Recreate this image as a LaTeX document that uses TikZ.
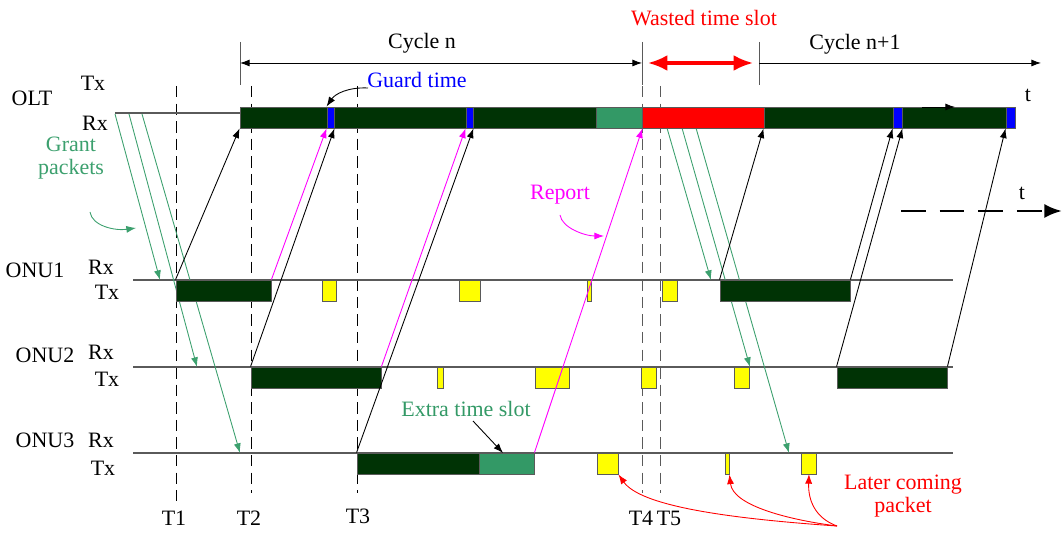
\documentclass[tikz,border=0pt]{standalone}
\usepackage{fontspec}
\setmainfont{Liberation Serif}
\usetikzlibrary{arrows, arrows.meta, fit}
\definecolor{slotgreen}{RGB}{0,51,5}
\definecolor{extragreen}{RGB}{51,153,102}
\definecolor{grantgreen}{RGB}{60,160,110}
\definecolor{linegray}{RGB}{90,90,90}
\definecolor{reportpink}{RGB}{255,0,255}
\definecolor{pktyellow}{RGB}{255,255,0}
\definecolor{wastedred}{RGB}{255,0,0}
\definecolor{guardblue}{RGB}{0,0,255}
\begin{document}
\begin{tikzpicture}[x=0.02cm, y=-0.02cm]

\tikzset{lbl/.style = {font=\fontsize{12.5}{13.6}\selectfont, anchor=base, inner sep=0pt}}
\tikzset{slot/.style = {draw=linegray, line width=0.5pt, inner sep=0pt, fill=slotgreen}}
\tikzset{guard/.style = {slot, fill=guardblue}}
\tikzset{extra/.style = {slot, fill=extragreen}}
\tikzset{wasted/.style = {slot, fill=wastedred}}
\tikzset{pkt/.style = {slot, fill=pktyellow}}
\tikzset{edge/.style = {->, > = {Latex[length=5.5pt,width=4pt]}, line width=0.5pt}}
\tikzset{report/.style = {edge, reportpink}}
\tikzset{grant/.style = {edge, grantgreen}}
\tikzset{rxline/.style = {linegray, line width=0.6pt}}
\tikzset{tline/.style = {line width=0.55pt, dash pattern=on 6.5pt off 3.5pt}}
\useasboundingbox (0,0) rectangle (1062,540);

% time marks
\draw[tline] (176,86) -- (176,501);
\draw[tline] (251,86) -- (251,493);
\draw[tline] (357,86) -- (357,493);
\draw[tline, linegray] (642,86) -- (642,493);
\draw[tline, linegray] (660,86) -- (660,493);
\node[lbl] (T1) at (174,525) {T1};
\node[lbl] (T2) at (249,525) {T2};
\node[lbl] (T3) at (358,523) {T3};
\node[lbl] (T4) at (641,525) {T4};
\node[lbl] (T5) at (669,525) {T5};

% cycles
\draw[linegray] (240,42) -- (240,85);
\draw[linegray] (642,42) -- (642,85);
\draw[linegray] (759,42) -- (759,85);
\coordinate (c0) at (240,63);
\coordinate (c1) at (642,63);
\coordinate (c2) at (759,63);
\coordinate (c3) at (1041,63);
\coordinate (w0) at (648,63);
\coordinate (w1) at (753,63);
\draw[edge, <->] (c0) -- (c1);
\draw[edge] (c2) -- (c3);
\draw[{Latex[length=11pt,width=9pt]}-{Latex[length=11pt,width=9pt]}, wastedred, line width=1.8pt] (w0) -- (w1);
\node[lbl] (cyc1) at (422,49) {Cycle n};
\node[lbl] (cyc2) at (855,50) {Cycle n+1};
\node[lbl, wastedred] (waste) at (704,26) {Wasted time slot};

% rx lines
\draw[rxline] (115,113) -- (240,113);
\draw[rxline] (133,280) -- (953,280);
\draw[rxline] (133,367) -- (953,367);
\draw[rxline] (133,453) -- (953,453);

% grants
\coordinate (ga1) at (115,114);
\coordinate (ga2) at (129,114);
\coordinate (ga3) at (142,114);
\coordinate (gb1) at (667,128);
\coordinate (gb2) at (682,128);
\coordinate (gb3) at (696,128);
\coordinate (ra1) at (160,280);
\coordinate (ra2) at (197,367);
\coordinate (ra3) at (240,453);
\coordinate (rb1) at (711,280);
\coordinate (rb2) at (750,367);
\coordinate (rb3) at (789,453);
\draw[grant] (ga1) -- (ra1);
\draw[grant] (ga2) -- (ra2);
\draw[grant] (ga3) -- (ra3);
\draw[grant] (gb1) -- (rb1);
\draw[grant] (gb2) -- (rb2);
\draw[grant] (gb3) -- (rb3);

% OLT slots
\node[slot, fit={(240,107) (327,128)}] (o1) {};
\node[guard, fit={(327,107) (334,128)}] (g1) {};
\node[slot, fit={(334,107) (466,128)}] (o2) {};
\node[guard, fit={(466,107) (473,128)}] (g2) {};
\node[slot, fit={(473,107) (596,128)}] (o3) {};
\node[extra, fit={(596,107) (642,128)}] (ox) {};
\node[wasted, fit={(642,107) (764,128)}] (ow) {};
\node[slot, fit={(764,107) (893,128)}] (o4) {};
\node[guard, fit={(893,107) (902,128)}] (g3) {};
\node[slot, fit={(902,107) (1006,128)}] (o5) {};
\node[guard, fit={(1006,107) (1015,128)}] (g4) {};
\coordinate (tt) at (955,107);
\draw[edge] (922,107) -- (tt);

% ONU1 slots
\node[slot, fit={(176,280) (271,301)}] (a1) {};
\node[pkt, fit={(322,280) (336,301)}] (ay1) {};
\node[pkt, fit={(459,280) (480,301)}] (ay2) {};
\node[pkt, fit={(587,280) (591,301)}] (ay3) {};
\node[pkt, fit={(662,280) (677,301)}] (ay4) {};
\node[slot, fit={(720,280) (850,301)}] (a2) {};

% ONU2 slots
\node[slot, fit={(251,367) (381,388)}] (b1) {};
\node[pkt, fit={(437,367) (443,388)}] (by1) {};
\node[pkt, fit={(535,367) (569,388)}] (by2) {};
\node[pkt, fit={(641,367) (656,388)}] (by3) {};
\node[pkt, fit={(734,367) (749,388)}] (by4) {};
\node[slot, fit={(837,367) (947,388)}] (b2) {};

% ONU3 slots
\node[slot, fit={(357,453) (479,474)}] (c1) {};
\node[extra, fit={(479,453) (534,474)}] (cx) {};
\node[pkt, fit={(597,453) (618,474)}] (cy1) {};
\node[pkt, fit={(725,453) (729,474)}] (cy2) {};
\node[pkt, fit={(801,453) (816,474)}] (cy3) {};

%edges
\draw[edge] (a1.north west) -- (o1.south west);
\draw[report] (a1.north east) -- (g1.south west);
\draw[edge] (b1.north west) -- (g1.south east);
\draw[report] (b1.north east) -- (g2.south west);
\draw[edge] (c1.north west) -- (g2.south east);
\draw[report] (cx.north east) -- (ox.south east);
\draw[edge] (a2.north west) -- (o4.south west);
\draw[edge] (a2.north east) -- (g3.south west);
\draw[edge] (b2.north west) -- (g3.south east);
\draw[edge] (b2.north east) -- (g4.south west);

% node labels
\node[lbl] (olt) at (32,106) {OLT};
\node[lbl] (olttx) at (93,91) {Tx};
\node[lbl] (oltrx) at (95,131) {Rx};
\node[lbl] (onu1) at (35,278) {ONU1};
\node[lbl] (onu1rx) at (101,275) {Rx};
\node[lbl] (onu1tx) at (107,300) {Tx};
\node[lbl] (onu2) at (45,363) {ONU2};
\node[lbl] (onu2rx) at (101,360) {Rx};
\node[lbl] (onu2tx) at (107,387) {Tx};
\node[lbl] (onu3) at (45,448) {ONU3};
\node[lbl] (onu3rx) at (101,448) {Rx};
\node[lbl] (onu3tx) at (103,476) {Tx};
\node[lbl] (t1) at (1028,102) {t};
\node[lbl] (t2) at (1022,200) {t};

% remarks
\node[lbl, grantgreen, align=center, anchor=base] (grantlbl) at (71,175) {Grant\\packets};
\coordinate (gp0) at (90,212);
\coordinate (gp1) at (136,228);
\draw[grant] (gp0) .. controls (92,226) and (115,231) .. (gp1);
\node[lbl, reportpink] (replbl) at (560,200) {Report};
\coordinate (rp0) at (560,215);
\coordinate (rp1) at (604,236);
\draw[report] (rp0) .. controls (562,228) and (585,236) .. (rp1);
\node[lbl, guardblue] (guardlbl) at (417,88) {Guard time};
\coordinate (gd0) at (368,88);
\draw[edge] (gd0) .. controls (348,87) and (335,94) .. (g1.north west);
\node[lbl, extragreen] (extralbl) at (466,417) {Extra time slot};
\coordinate (ex0) at (473,421);
\coordinate (ex1) at (503,453);
\draw[edge] (ex0) -- (ex1);
\node[lbl, wastedred, align=center] (laterlbl) at (903,513) {Later coming\\packet};
\coordinate (lt) at (837,526);
\draw[edge, wastedred] (lt) .. controls (720,518) and (640,505) .. (cy1.south east);
\draw[edge, wastedred] (lt) .. controls (790,520) and (733,506) .. (cy2.south east);
\draw[edge, wastedred] (lt) .. controls (815,518) and (808,500) .. (809,474);

% time axis
\coordinate (ax0) at (901,211);
\coordinate (ax1) at (1062,211);
\draw[-{Latex[length=10pt,width=8pt]}, line width=1.7pt, dash pattern=on 14pt off 8pt] (ax0) -- (ax1);
\end{tikzpicture}
\end{document}
